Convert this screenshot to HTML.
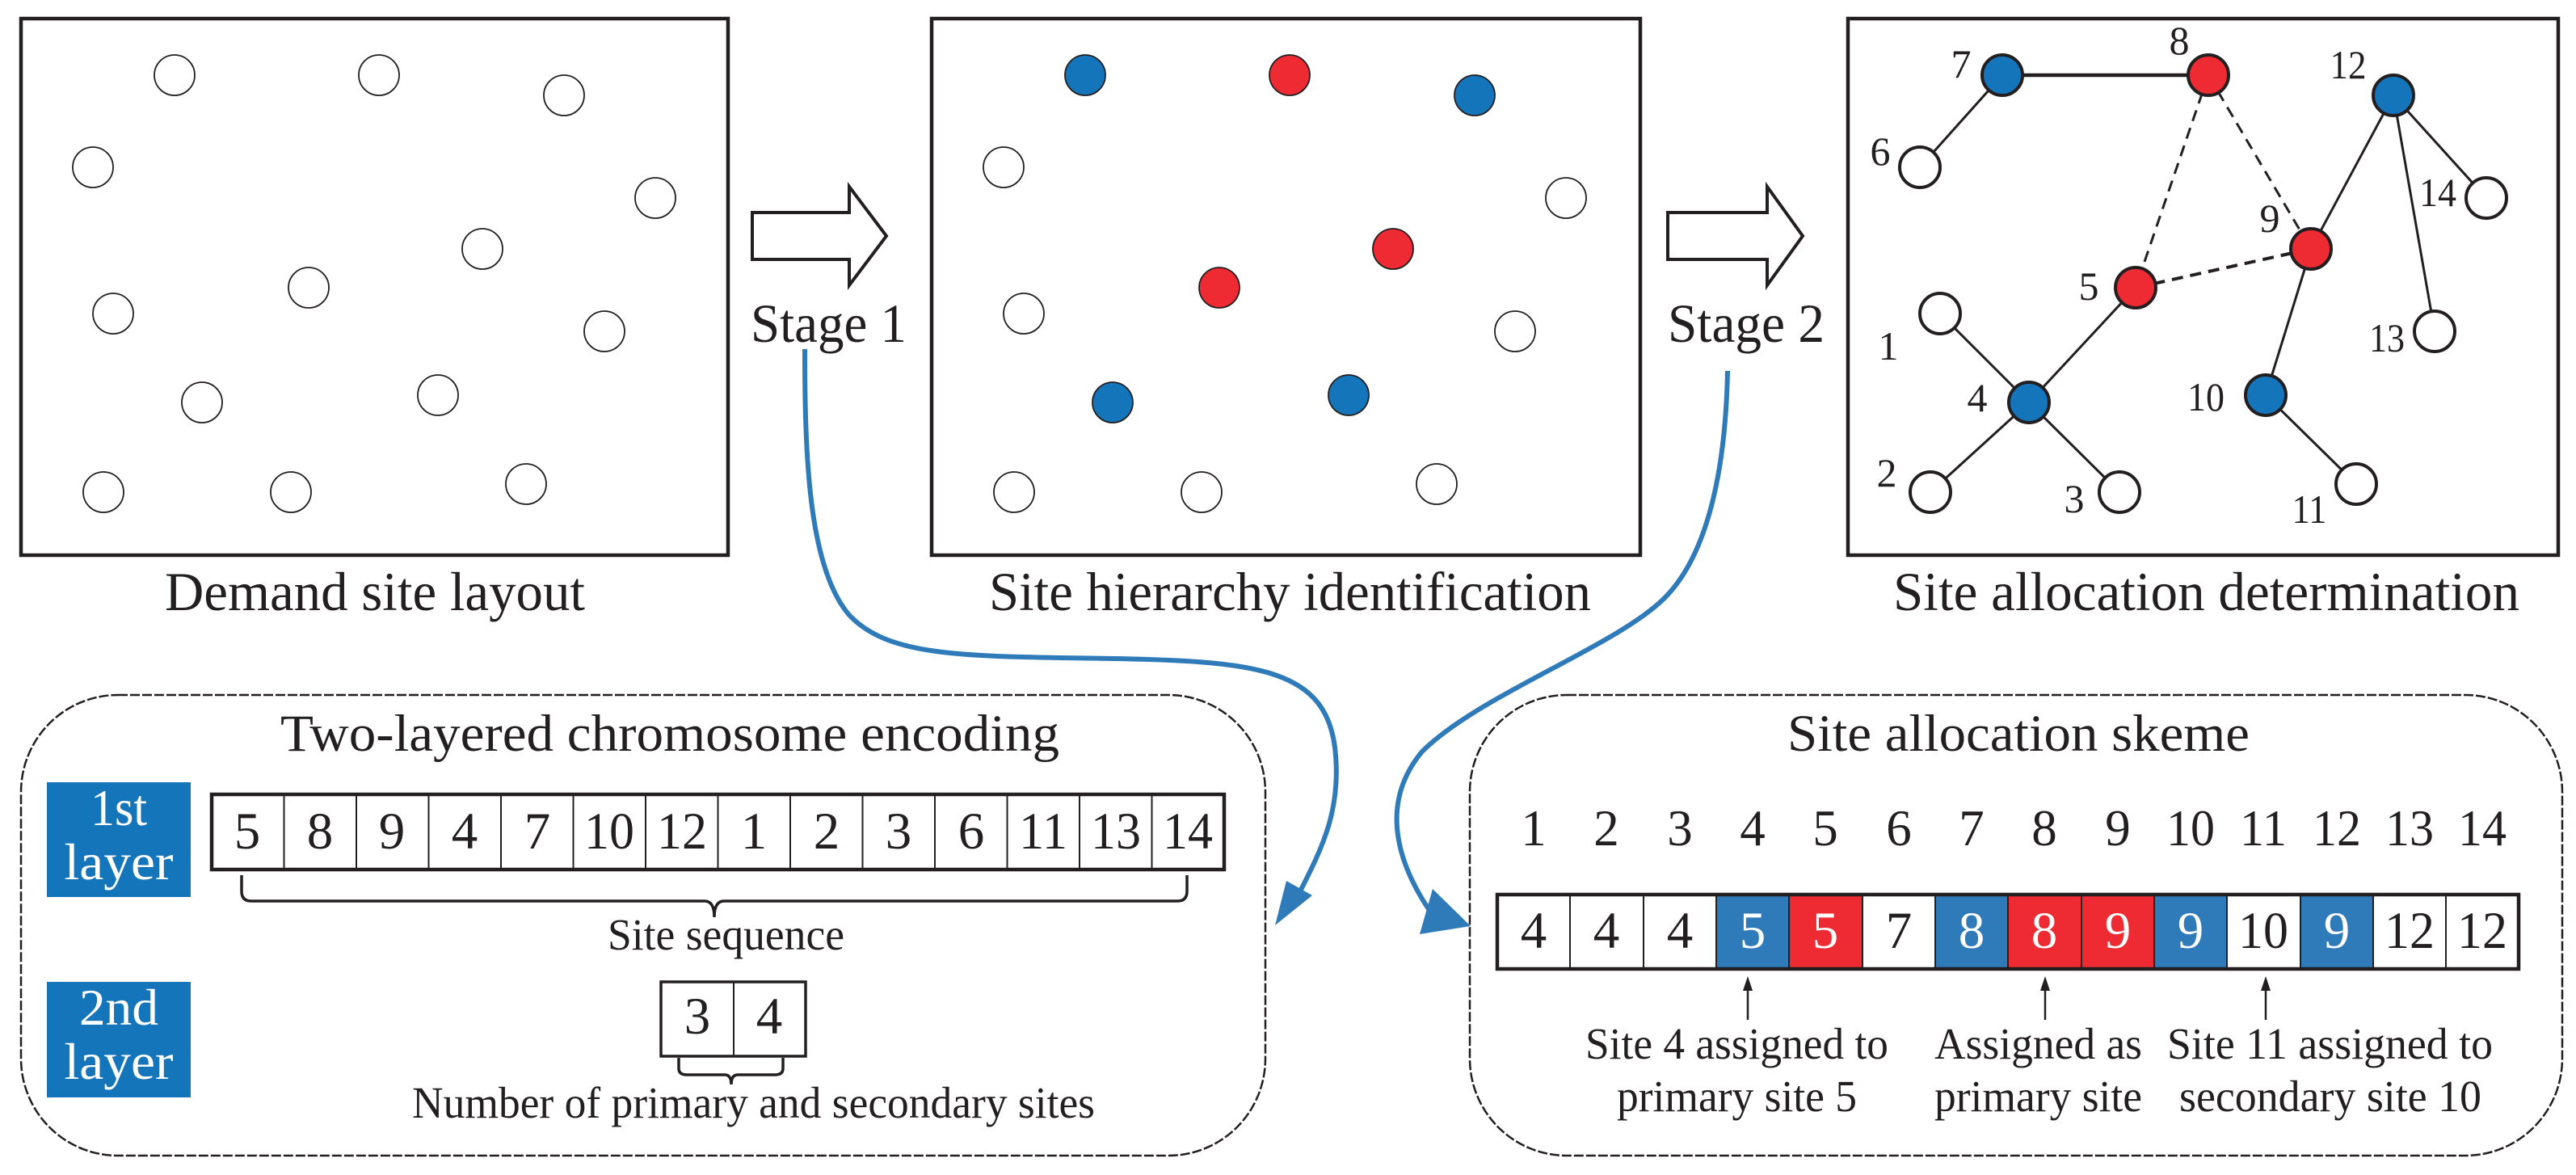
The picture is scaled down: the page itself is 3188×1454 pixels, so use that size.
<!DOCTYPE html>
<html><head><meta charset="utf-8"><style>html,body{margin:0;padding:0;background:#fff}svg{display:block}svg text{font-family:"Liberation Serif","Times New Roman",serif !important;fill:#231f20}</style></head><body>
<svg width="3188" height="1454" viewBox="0 0 3188 1454" xmlns="http://www.w3.org/2000/svg" font-family="Liberation Serif, serif">
<g fill="none" stroke="#231f20" stroke-width="4.5">
<rect x="26" y="23" width="875" height="664"/>
<rect x="1153" y="23" width="877" height="664"/>
<rect x="2287" y="23" width="879" height="664"/>
</g>
<g fill="#fff" stroke="#231f20" stroke-width="1.8">
<circle cx="216" cy="93" r="25"/><circle cx="469" cy="93" r="25"/><circle cx="698" cy="118" r="25"/>
<circle cx="115" cy="207" r="25"/><circle cx="811" cy="245" r="25"/><circle cx="597" cy="308" r="25"/>
<circle cx="382" cy="356" r="25"/><circle cx="140" cy="388" r="25"/><circle cx="748" cy="410" r="25"/>
<circle cx="250" cy="498" r="25"/><circle cx="542" cy="489" r="25"/><circle cx="128" cy="609" r="25"/>
<circle cx="360" cy="609" r="25"/><circle cx="651" cy="599" r="25"/>
</g>
<g stroke="#231f20" stroke-width="1.8">
<circle cx="1343" cy="93" r="25" fill="#1575bb"/><circle cx="1596" cy="93" r="25" fill="#ee2a33"/><circle cx="1825" cy="118" r="25" fill="#1575bb"/>
<circle cx="1242" cy="207" r="25" fill="#fff"/><circle cx="1938" cy="245" r="25" fill="#fff"/><circle cx="1724" cy="308" r="25" fill="#ee2a33"/>
<circle cx="1509" cy="356" r="25" fill="#ee2a33"/><circle cx="1267" cy="388" r="25" fill="#fff"/><circle cx="1875" cy="410" r="25" fill="#fff"/>
<circle cx="1377" cy="498" r="25" fill="#1575bb"/><circle cx="1669" cy="489" r="25" fill="#1575bb"/><circle cx="1255" cy="609" r="25" fill="#fff"/>
<circle cx="1487" cy="609" r="25" fill="#fff"/><circle cx="1778" cy="599" r="25" fill="#fff"/>
</g>
<g stroke="#231f20" stroke-width="3" fill="none">
<line x1="2478" y1="93" x2="2733" y2="93" stroke-width="4.5"/>
<line x1="2478" y1="93" x2="2376" y2="207"/>
<line x1="2962" y1="118" x2="2860" y2="308"/>
<line x1="2860" y1="308" x2="2804" y2="489"/>
<line x1="2962" y1="118" x2="3077" y2="245"/>
<line x1="2962" y1="118" x2="3013" y2="410"/>
<line x1="2643" y1="356" x2="2511" y2="498"/>
<line x1="2401" y1="388" x2="2511" y2="498"/>
<line x1="2511" y1="498" x2="2389" y2="609"/>
<line x1="2511" y1="498" x2="2623" y2="609"/>
<line x1="2804" y1="489" x2="2916" y2="599"/>
<g stroke-dasharray="14,9">
<line x1="2733" y1="93" x2="2643" y2="356"/>
<line x1="2733" y1="93" x2="2860" y2="308"/>
<line x1="2643" y1="356" x2="2860" y2="308" stroke-width="4"/>
</g>
</g>
<g stroke="#231f20" stroke-width="4">
<circle cx="2478" cy="93" r="25" fill="#1575bb"/><circle cx="2733" cy="93" r="25" fill="#ee2a33"/><circle cx="2962" cy="118" r="25" fill="#1575bb"/>
<circle cx="2376" cy="207" r="25" fill="#fff"/><circle cx="3077" cy="245" r="25" fill="#fff"/><circle cx="2860" cy="308" r="25" fill="#ee2a33"/>
<circle cx="2643" cy="356" r="25" fill="#ee2a33"/><circle cx="2401" cy="388" r="25" fill="#fff"/><circle cx="3013" cy="410" r="25" fill="#fff"/>
<circle cx="2511" cy="498" r="25" fill="#1575bb"/><circle cx="2804" cy="489" r="25" fill="#1575bb"/><circle cx="2389" cy="609" r="25" fill="#fff"/>
<circle cx="2623" cy="609" r="25" fill="#fff"/><circle cx="2916" cy="599" r="25" fill="#fff"/>
</g>
<g font-size="50" text-anchor="middle" font-family="Liberation Serif, serif">
<text x="2427" y="96">7</text><text x="2697" y="67">8</text><text x="2906" y="97" textLength="45" lengthAdjust="spacingAndGlyphs">12</text>
<text x="2327" y="204">6</text><text x="3017" y="255" textLength="46" lengthAdjust="spacingAndGlyphs">14</text><text x="2809" y="287">9</text>
<text x="2585" y="371">5</text><text x="2337" y="445">1</text><text x="2954" y="435" textLength="44" lengthAdjust="spacingAndGlyphs">13</text>
<text x="2447" y="509">4</text><text x="2730" y="508" textLength="46" lengthAdjust="spacingAndGlyphs">10</text><text x="2335" y="602">2</text>
<text x="2567" y="634">3</text><text x="2858" y="647" textLength="43" lengthAdjust="spacingAndGlyphs">11</text>
</g>
<g fill="#fff" stroke="#231f20" stroke-width="4">
<polygon points="931,263 1051,263 1051,231 1097,292 1051,353 1051,321 931,321"/>
<polygon points="2064,263 2187,263 2187,231 2231,292 2187,353 2187,321 2064,321"/>
</g>
<g font-size="68" font-family="Liberation Serif, serif">
<text x="929" y="423" textLength="193" lengthAdjust="spacingAndGlyphs">Stage 1</text>
<text x="2064" y="423" textLength="194" lengthAdjust="spacingAndGlyphs">Stage 2</text>
<text x="204" y="755" textLength="520" lengthAdjust="spacingAndGlyphs">Demand site layout</text>
<text x="1224" y="755" textLength="745" lengthAdjust="spacingAndGlyphs">Site hierarchy identification</text>
<text x="2343" y="755" textLength="775" lengthAdjust="spacingAndGlyphs">Site allocation determination</text>
</g>
<g fill="none" stroke="#2f7ab9" stroke-width="6">
<path d="M996,432 C996,560 1000,700 1050,760 C1100,815 1200,812 1380,815 C1560,818 1640,830 1652,925 C1662,1010 1630,1060 1598,1125"/>
<path d="M2138,459 C2136,560 2120,680 2060,740 C2000,800 1830,860 1760,930 C1710,990 1725,1060 1768,1125"/>
</g>
<g fill="#2f7ab9">
<polygon points="1578,1145 1592,1090 1624,1108"/>
<polygon points="1820,1146 1773,1100 1757,1156"/>
</g>
<g fill="none" stroke="#231f20" stroke-width="2.5" stroke-dasharray="12,3">
<rect x="26" y="860" width="1540" height="570" rx="120" ry="120"/>
<rect x="1819" y="860" width="1352" height="570" rx="120" ry="120"/>
</g>
<g font-size="65" font-family="Liberation Serif, serif">
<text x="347" y="929" textLength="964" lengthAdjust="spacingAndGlyphs">Two-layered chromosome encoding</text>
<text x="2212" y="929" textLength="572" lengthAdjust="spacingAndGlyphs">Site allocation skeme</text>
</g>
<rect x="58" y="968" width="178" height="142" fill="#1575bb"/>
<rect x="58" y="1215" width="178" height="143" fill="#1575bb"/>
<g font-size="64" text-anchor="middle" font-family="Liberation Serif, serif">
<text x="147" y="1021" style="fill:#fff" textLength="70" lengthAdjust="spacingAndGlyphs">1st</text>
<text x="147" y="1088" style="fill:#fff" textLength="135" lengthAdjust="spacingAndGlyphs">layer</text>
<text x="147" y="1268" style="fill:#fff" textLength="98" lengthAdjust="spacingAndGlyphs">2nd</text>
<text x="147" y="1335" style="fill:#fff" textLength="135" lengthAdjust="spacingAndGlyphs">layer</text>
</g>
<g fill="#fff" stroke="#231f20" stroke-width="2">
<rect x="262" y="983" width="1253" height="93" stroke-width="4.5"/>
<line x1="351.5" y1="983" x2="351.5" y2="1076"/><line x1="441" y1="983" x2="441" y2="1076"/><line x1="530.5" y1="983" x2="530.5" y2="1076"/>
<line x1="620" y1="983" x2="620" y2="1076"/><line x1="709.5" y1="983" x2="709.5" y2="1076"/><line x1="799" y1="983" x2="799" y2="1076"/>
<line x1="888.5" y1="983" x2="888.5" y2="1076"/><line x1="978" y1="983" x2="978" y2="1076"/><line x1="1067.5" y1="983" x2="1067.5" y2="1076"/>
<line x1="1157" y1="983" x2="1157" y2="1076"/><line x1="1246.5" y1="983" x2="1246.5" y2="1076"/><line x1="1336" y1="983" x2="1336" y2="1076"/>
<line x1="1425.5" y1="983" x2="1425.5" y2="1076"/>
</g>
<g font-size="65" text-anchor="middle" font-family="Liberation Serif, serif">
<text x="306" y="1050">5</text><text x="396" y="1050">8</text><text x="485" y="1050">9</text><text x="575" y="1050">4</text><text x="665" y="1050">7</text>
<text x="754" y="1050" textLength="62" lengthAdjust="spacingAndGlyphs">10</text><text x="844" y="1050" textLength="62" lengthAdjust="spacingAndGlyphs">12</text>
<text x="933" y="1050">1</text><text x="1023" y="1050">2</text><text x="1112" y="1050">3</text><text x="1202" y="1050">6</text>
<text x="1291" y="1050" textLength="60" lengthAdjust="spacingAndGlyphs">11</text><text x="1381" y="1050" textLength="62" lengthAdjust="spacingAndGlyphs">13</text><text x="1470" y="1050" textLength="62" lengthAdjust="spacingAndGlyphs">14</text>
</g>
<g fill="none" stroke="#231f20" stroke-width="3.5">
<path d="M299,1083 L299,1103 Q299,1115 311,1115 L872,1115 Q884,1115 884,1135 Q884,1115 896,1115 L1457,1115 Q1469,1115 1469,1103 L1469,1083"/>
<rect x="818" y="1215" width="179" height="92"/>
<line x1="908" y1="1215" x2="908" y2="1307" stroke-width="2"/>
<path d="M840,1309 L840,1322 Q840,1330 850,1330 L897,1330 Q905,1330 905,1342 Q905,1330 913,1330 L959,1330 Q969,1330 969,1322 L969,1309"/>
</g>
<g font-size="65" text-anchor="middle" font-family="Liberation Serif, serif"><text x="863" y="1279">3</text><text x="952" y="1279">4</text></g>
<g font-size="55" font-family="Liberation Serif, serif">
<text x="752" y="1175" textLength="293" lengthAdjust="spacingAndGlyphs">Site sequence</text>
<text x="510" y="1383" textLength="845" lengthAdjust="spacingAndGlyphs">Number of primary and secondary sites</text>
</g>
<g font-size="63" text-anchor="middle" font-family="Liberation Serif, serif">
<text x="1898" y="1046">1</text><text x="1988" y="1046">2</text><text x="2079" y="1046">3</text><text x="2169" y="1046">4</text>
<text x="2259" y="1046">5</text><text x="2350" y="1046">6</text><text x="2440" y="1046">7</text><text x="2530" y="1046">8</text>
<text x="2621" y="1046">9</text><text x="2711" y="1046" textLength="60" lengthAdjust="spacingAndGlyphs">10</text><text x="2801" y="1046" textLength="58" lengthAdjust="spacingAndGlyphs">11</text>
<text x="2892" y="1046" textLength="60" lengthAdjust="spacingAndGlyphs">12</text><text x="2982" y="1046" textLength="60" lengthAdjust="spacingAndGlyphs">13</text><text x="3072" y="1046" textLength="60" lengthAdjust="spacingAndGlyphs">14</text>
</g>
<g stroke="none">
<rect x="2124" y="1107" width="90" height="92" fill="#2f7ab9"/>
<rect x="2214" y="1107" width="91" height="92" fill="#ee2a33"/>
<rect x="2395" y="1107" width="90" height="92" fill="#2f7ab9"/>
<rect x="2485" y="1107" width="91" height="92" fill="#ee2a33"/>
<rect x="2576" y="1107" width="90" height="92" fill="#ee2a33"/>
<rect x="2666" y="1107" width="90" height="92" fill="#2f7ab9"/>
<rect x="2847" y="1107" width="90" height="92" fill="#2f7ab9"/>
</g>
<g fill="none" stroke="#231f20" stroke-width="2">
<rect x="1853" y="1107" width="1264" height="92" stroke-width="4.5"/>
<line x1="1943" y1="1107" x2="1943" y2="1199"/><line x1="2034" y1="1107" x2="2034" y2="1199"/><line x1="2124" y1="1107" x2="2124" y2="1199"/>
<line x1="2214" y1="1107" x2="2214" y2="1199"/><line x1="2305" y1="1107" x2="2305" y2="1199"/><line x1="2395" y1="1107" x2="2395" y2="1199"/>
<line x1="2485" y1="1107" x2="2485" y2="1199"/><line x1="2576" y1="1107" x2="2576" y2="1199"/><line x1="2666" y1="1107" x2="2666" y2="1199"/>
<line x1="2756" y1="1107" x2="2756" y2="1199"/><line x1="2847" y1="1107" x2="2847" y2="1199"/><line x1="2937" y1="1107" x2="2937" y2="1199"/>
<line x1="3027" y1="1107" x2="3027" y2="1199"/>
</g>
<g font-size="65" text-anchor="middle" font-family="Liberation Serif, serif">
<text x="1898" y="1173">4</text><text x="1988" y="1173">4</text><text x="2079" y="1173">4</text>
<text x="2169" y="1173" style="fill:#fff">5</text><text x="2259" y="1173" style="fill:#fff">5</text><text x="2350" y="1173">7</text>
<text x="2440" y="1173" style="fill:#fff">8</text><text x="2530" y="1173" style="fill:#fff">8</text><text x="2621" y="1173" style="fill:#fff">9</text>
<text x="2711" y="1173" style="fill:#fff">9</text><text x="2801" y="1173" textLength="62" lengthAdjust="spacingAndGlyphs">10</text><text x="2892" y="1173" style="fill:#fff">9</text>
<text x="2982" y="1173" textLength="62" lengthAdjust="spacingAndGlyphs">12</text><text x="3072" y="1173" textLength="62" lengthAdjust="spacingAndGlyphs">12</text>
</g>
<g stroke="#231f20" stroke-width="2.5">
<line x1="2163" y1="1262" x2="2163" y2="1222"/><line x1="2531" y1="1262" x2="2531" y2="1222"/><line x1="2804" y1="1262" x2="2804" y2="1222"/>
</g>
<g fill="#231f20">
<polygon points="2163,1208 2157,1226 2169,1226"/><polygon points="2531,1208 2525,1226 2537,1226"/><polygon points="2804,1208 2798,1226 2810,1226"/>
</g>
<g font-size="55" font-family="Liberation Serif, serif">
<text x="1962" y="1310" textLength="375" lengthAdjust="spacingAndGlyphs">Site 4 assigned to</text>
<text x="2001" y="1375" textLength="297" lengthAdjust="spacingAndGlyphs">primary site 5</text>
<text x="2394" y="1310" textLength="257" lengthAdjust="spacingAndGlyphs">Assigned as</text>
<text x="2394" y="1375" textLength="257" lengthAdjust="spacingAndGlyphs">primary site</text>
<text x="2682" y="1310" textLength="403" lengthAdjust="spacingAndGlyphs">Site 11 assigned to</text>
<text x="2697" y="1375" textLength="374" lengthAdjust="spacingAndGlyphs">secondary site 10</text>
</g>
</svg>
</body></html>
